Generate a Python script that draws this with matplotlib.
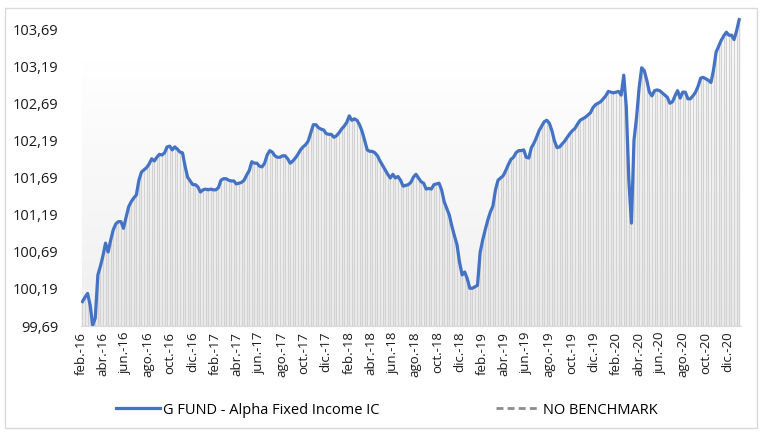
import pandas as pd
import numpy as np
import matplotlib
matplotlib.use('Agg')
import matplotlib.pyplot as plt
import matplotlib.dates as mdates
import matplotlib.patches as patches
from matplotlib.colors import LinearSegmentedColormap
from matplotlib.lines import Line2D

plt.rcParams['font.family'] = ['Open Sans', 'DejaVu Sans']

# weekly NAV index, first point 5 feb 2016
start_date = '2016-02-05'
fund_values = [
    100.02, 100.08, 100.13, 99.97, 99.70, 99.80, 100.38, 100.50, 100.64, 100.81,
    100.69, 100.85, 100.99, 101.07, 101.10, 101.10, 101.01, 101.16, 101.30, 101.37,
    101.42, 101.46, 101.66, 101.77, 101.80, 101.83, 101.88, 101.95, 101.92, 101.97,
    102.01, 102.00, 102.03, 102.11, 102.12, 102.07, 102.11, 102.08, 102.04, 102.03,
    101.85, 101.70, 101.65, 101.60, 101.60, 101.57, 101.50, 101.53, 101.54, 101.53,
    101.54, 101.53, 101.53, 101.56, 101.66, 101.68, 101.68, 101.66, 101.65, 101.65,
    101.61, 101.62, 101.63, 101.66, 101.73, 101.79, 101.91, 101.89, 101.89, 101.85,
    101.84, 101.89, 102.00, 102.06, 102.04, 101.99, 101.97, 101.97, 101.99, 101.99,
    101.95, 101.89, 101.92, 101.96, 102.01, 102.07, 102.11, 102.14, 102.19, 102.30,
    102.41, 102.41, 102.37, 102.35, 102.34, 102.29, 102.28, 102.28, 102.24, 102.26,
    102.30, 102.35, 102.39, 102.44, 102.53, 102.47, 102.49, 102.47, 102.41, 102.32,
    102.20, 102.07, 102.05, 102.05, 102.03, 101.99, 101.92, 101.86, 101.80, 101.74,
    101.69, 101.74, 101.69, 101.71, 101.66, 101.58, 101.59, 101.60, 101.63, 101.70,
    101.74, 101.69, 101.64, 101.62, 101.54, 101.55, 101.54, 101.60, 101.61, 101.62,
    101.53, 101.37, 101.28, 101.19, 101.04, 100.91, 100.79, 100.55, 100.38, 100.42,
    100.33, 100.20, 100.20, 100.22, 100.24, 100.68, 100.85, 100.99, 101.12, 101.23,
    101.31, 101.53, 101.66, 101.69, 101.72, 101.79, 101.87, 101.94, 101.97, 102.03,
    102.06, 102.06, 102.07, 101.97, 101.96, 102.10, 102.16, 102.24, 102.33, 102.39,
    102.45, 102.47, 102.43, 102.33, 102.19, 102.10, 102.11, 102.15, 102.19, 102.24,
    102.29, 102.33, 102.36, 102.42, 102.47, 102.49, 102.51, 102.54, 102.57, 102.64,
    102.68, 102.70, 102.72, 102.76, 102.80, 102.86, 102.85, 102.84, 102.85, 102.86,
    102.81, 103.08, 102.65, 101.66, 101.08, 102.20, 102.51, 102.91, 103.18, 103.14,
    103.01, 102.85, 102.80, 102.87, 102.88, 102.87, 102.84, 102.81, 102.78, 102.70,
    102.72, 102.80, 102.87, 102.77, 102.85, 102.85, 102.76, 102.76, 102.80, 102.85,
    102.93, 103.04, 103.05, 103.03, 103.01, 102.98, 103.15, 103.39, 103.47, 103.55,
    103.61, 103.66, 103.62, 103.62, 103.56, 103.68, 103.83,
]
y_ticks = [99.69, 100.19, 100.69, 101.19, 101.69, 102.19, 102.69, 103.19, 103.69]
month_abbr = ['ene.', 'feb.', 'mar.', 'abr.', 'may.', 'jun.',
              'jul.', 'ago.', 'sep.', 'oct.', 'nov.', 'dic.']
series_names = ['G FUND - Alpha Fixed Income IC', 'NO BENCHMARK']

dates = pd.date_range(start_date, periods=len(fund_values), freq='7D')
tick_dates = pd.date_range('2016-02-01', '2020-12-01', freq='2MS')
x = mdates.date2num(dates)
base = y_ticks[0]

fig = plt.figure(figsize=(7.62, 4.33), dpi=100)
fig.patches.append(patches.Rectangle((5 / 762, 5 / 433), 752 / 762, 420 / 433,
                                     transform=fig.transFigure, fill=False,
                                     edgecolor='#d9d9d9', linewidth=1))
ax = fig.add_axes([81 / 762, 1 - 326 / 433, 660 / 762, 316 / 433])

x0, x1 = x[0] - 2, x[-1] + 5
ax.set_xlim(x0, x1)
ax.set_ylim(base, 103.96)

# soft gradient backdrop behind the columns
grad = np.linspace(0, 1, 256).reshape(-1, 1)
cmap = LinearSegmentedColormap.from_list('bg', ['#efefef', '#ffffff'])
ax.imshow(grad, extent=[x[0] - 1, x[-1] + 1, base, 103.28], origin='lower',
          aspect='auto', cmap=cmap, zorder=0)

ax.vlines(x, base, fund_values, color='#d2d2d2', linewidth=1.0, zorder=1)
ax.plot(x, fund_values, color='#4472C4', linewidth=2.3, zorder=3,
        solid_joinstyle='round')

ax.set_yticks(y_ticks)
ax.set_yticklabels([f"{v:.2f}".replace('.', ',') for v in y_ticks])
ax.set_xticks(mdates.date2num(tick_dates))
ax.set_xticklabels([f"{month_abbr[d.month - 1]}-{d.year % 100:02d}" for d in tick_dates],
                   rotation=90)
ax.tick_params(axis='y', length=0, pad=16, labelsize=10.5, colors='#1a1a1a')
ax.tick_params(axis='x', length=0, pad=4, labelsize=9.5, colors='#1a1a1a')

for side in ['top', 'right', 'left']:
    ax.spines[side].set_visible(False)
ax.spines['bottom'].set_color('#d9d9d9')

handles = [Line2D([], [], color='#4472C4', linewidth=2.3),
           Line2D([], [], color='#8c8c8c', linewidth=2, linestyle=(0, (2.5, 1.5)))]
fig.legend(handles, series_names, loc='center', bbox_to_anchor=(387 / 762, 1 - 410 / 433),
           ncol=2, frameon=False, fontsize=10.5, handlelength=3, handletextpad=0.2,
           columnspacing=8.0)

fig.savefig('out.png', dpi=100)
